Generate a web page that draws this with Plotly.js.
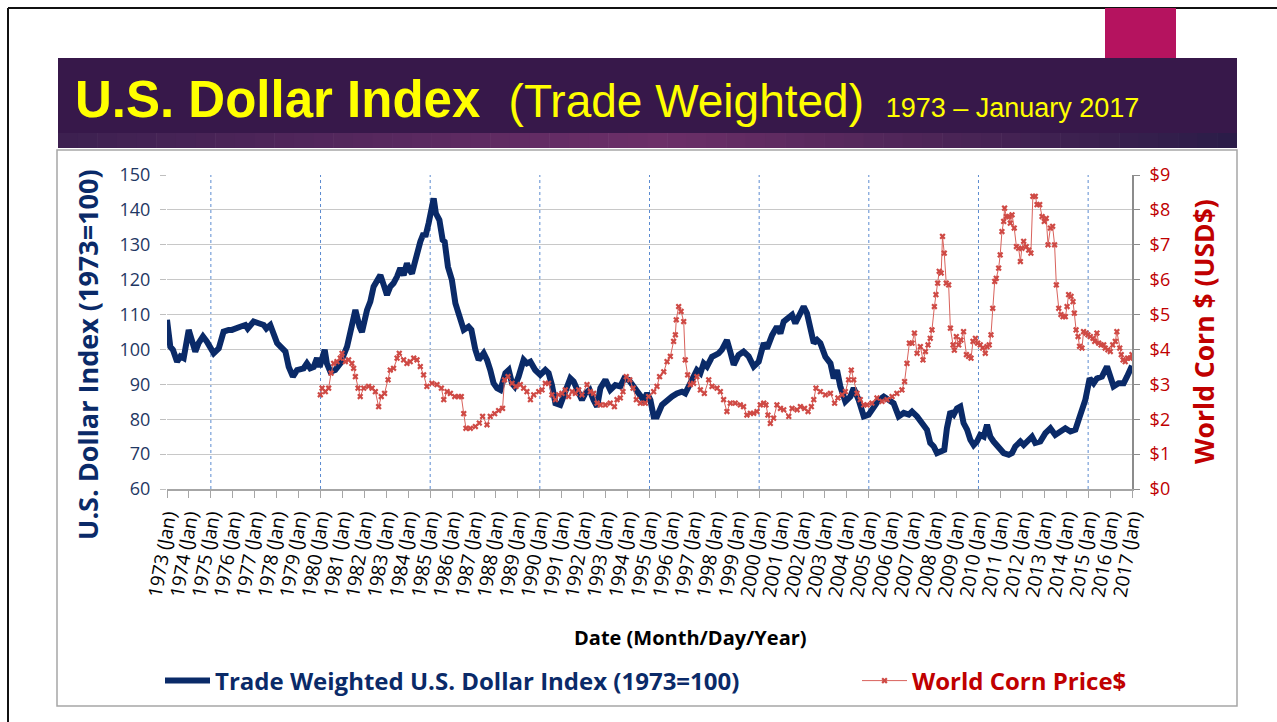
<!DOCTYPE html>
<html><head><meta charset="utf-8">
<script src="https://cdn.plot.ly/plotly-3.0.1.min.js"></script>
<style>html,body{margin:0;padding:0;background:#fff;overflow:hidden}#chart{width:1277px;height:722px}</style>
</head><body><div id="chart"></div>
<script>
// ---- Data ----
const blueYears = [1973.00,1973.15,1973.27,1973.46,1973.61,1973.76,1973.99,1974.29,1974.44,1974.64,1974.82,1975.13,1975.36,1975.58,1975.81,1975.96,1976.34,1976.57,1976.68,1976.95,1977.18,1977.41,1977.53,1977.71,1978.02,1978.24,1978.40,1978.55,1978.74,1978.93,1979.23,1979.38,1979.53,1979.69,1979.84,1979.96,1980.19,1980.29,1980.45,1980.67,1980.90,1981.21,1981.43,1981.59,1981.78,1981.89,1982.12,1982.27,1982.42,1982.57,1982.73,1982.88,1983.03,1983.18,1983.33,1983.49,1983.64,1983.79,1983.94,1984.05,1984.17,1984.29,1984.40,1984.55,1984.70,1984.78,1984.93,1985.11,1985.16,1985.26,1985.42,1985.57,1985.66,1985.81,1985.99,1986.15,1986.37,1986.53,1986.75,1986.88,1987.06,1987.21,1987.44,1987.59,1987.74,1987.89,1988.05,1988.20,1988.43,1988.58,1988.73,1988.85,1989.03,1989.26,1989.41,1989.57,1989.79,1990.02,1990.25,1990.40,1990.55,1990.71,1990.93,1991.16,1991.39,1991.54,1991.69,1991.92,1992.07,1992.27,1992.45,1992.61,1992.76,1992.99,1993.21,1993.44,1993.67,1993.85,1994.05,1994.28,1994.51,1994.73,1994.89,1995.04,1995.19,1995.34,1995.57,1995.80,1996.03,1996.25,1996.48,1996.63,1996.79,1996.94,1997.16,1997.32,1997.47,1997.62,1997.85,1998.00,1998.15,1998.30,1998.53,1998.68,1998.84,1999.06,1999.29,1999.52,1999.75,1999.98,2000.21,2000.36,2000.59,2000.81,2000.97,2001.12,2001.35,2001.50,2001.65,2001.88,2002.03,2002.18,2002.33,2002.49,2002.64,2002.79,2003.02,2003.25,2003.40,2003.55,2003.70,2003.93,2004.16,2004.31,2004.54,2004.77,2004.99,2005.22,2005.45,2005.68,2005.90,2006.13,2006.36,2006.59,2006.82,2006.97,2007.20,2007.42,2007.65,2007.80,2007.96,2008.11,2008.34,2008.44,2008.56,2008.72,2008.87,2009.02,2009.17,2009.32,2009.48,2009.63,2009.78,2009.93,2010.08,2010.24,2010.39,2010.54,2010.69,2010.92,2011.15,2011.38,2011.53,2011.68,2011.91,2012.06,2012.29,2012.44,2012.59,2012.82,2013.05,2013.28,2013.50,2013.73,2013.96,2014.19,2014.42,2014.57,2014.72,2014.87,2015.07,2015.25,2015.40,2015.63,2015.86,2016.01,2016.16,2016.39,2016.62,2016.77,2016.92,2017.00];
const blueIndex = [108.5,100.8,99.9,96.5,98.0,97.5,105.6,99.4,101.8,103.7,102.2,98.9,100.3,105.1,105.6,105.6,106.5,107.0,106.0,108.0,107.5,107.0,106.0,107.0,101.8,100.3,99.4,95.0,92.2,94.1,94.6,96.0,94.6,95.0,97.5,95.0,99.9,96.0,93.6,94.1,96.0,100.8,107.5,111.3,106.5,105.0,111.3,113.7,118.0,119.4,121.3,118.5,115.6,118.0,119.0,120.9,123.3,121.3,124.7,122.8,121.8,124.7,127.6,130.9,133.3,132.3,136.2,142.4,143.3,139.0,137.1,131.4,130.9,123.7,119.9,113.2,109.4,105.6,106.5,105.6,99.9,97.0,98.9,97.0,94.1,90.3,88.9,88.4,93.2,94.1,90.3,89.4,92.2,97.0,96.0,96.5,94.1,92.7,94.1,93.2,89.8,84.6,84.1,87.9,91.7,90.8,88.9,85.5,87.4,88.4,85.5,83.6,88.9,91.3,88.4,89.8,89.4,91.7,91.3,89.4,87.0,85.5,87.4,85.5,80.8,80.8,84.1,85.5,86.5,87.4,87.9,87.4,89.4,91.7,94.1,93.2,96.0,95.1,97.9,98.4,98.9,99.9,102.7,99.4,95.6,98.4,99.4,98.0,95.1,96.5,101.8,100.3,104.1,106.5,104.6,108.0,109.4,109.9,107.5,110.4,112.3,110.4,105.6,101.8,102.7,101.8,97.9,96.0,91.7,94.1,89.4,85.1,86.5,88.9,85.5,80.8,81.3,83.6,85.5,86.5,85.5,84.6,80.8,81.8,81.3,82.2,80.8,78.9,77.0,73.2,72.2,70.3,70.8,71.2,77.4,82.2,81.3,83.1,83.6,78.9,77.0,74.1,72.6,73.6,75.5,75.0,78.4,75.0,73.6,72.2,70.3,69.8,70.3,72.2,73.6,72.6,74.1,75.0,73.2,73.6,76.0,77.4,75.5,76.5,77.4,76.5,77.0,79.9,82.7,85.5,91.7,90.3,91.7,92.2,95.1,92.2,89.4,90.3,90.3,92.2,95.1,95.3];

const cornYears = [1979.99,1980.07,1980.22,1980.37,1980.48,1980.60,1980.75,1980.90,1980.98,1981.13,1981.28,1981.43,1981.51,1981.59,1981.71,1981.81,1981.97,1982.19,1982.35,1982.50,1982.65,1982.77,1982.92,1983.08,1983.18,1983.33,1983.49,1983.59,1983.79,1983.94,1984.09,1984.25,1984.40,1984.55,1984.70,1984.85,1985.08,1985.31,1985.51,1985.62,1985.77,1985.92,1986.12,1986.30,1986.42,1986.53,1986.63,1986.83,1987.06,1987.24,1987.39,1987.59,1987.74,1987.94,1988.12,1988.30,1988.39,1988.55,1988.73,1988.91,1989.11,1989.26,1989.41,1989.57,1989.72,1989.95,1990.10,1990.25,1990.40,1990.55,1990.71,1990.86,1991.01,1991.16,1991.31,1991.47,1991.62,1991.77,1991.92,1992.15,1992.30,1992.45,1992.61,1992.76,1992.99,1993.21,1993.40,1993.52,1993.67,1993.79,1993.94,1994.10,1994.25,1994.40,1994.58,1994.81,1994.96,1995.19,1995.34,1995.46,1995.65,1995.80,1995.95,1996.10,1996.18,1996.22,1996.33,1996.44,1996.56,1996.63,1996.74,1996.86,1997.01,1997.16,1997.32,1997.50,1997.70,1997.85,1998.08,1998.23,1998.38,1998.53,1998.68,1998.91,1999.14,1999.29,1999.44,1999.60,1999.75,1999.90,2000.05,2000.21,2000.31,2000.40,2000.51,2000.66,2000.81,2000.97,2001.12,2001.35,2001.50,2001.73,2001.88,2002.07,2002.23,2002.38,2002.49,2002.59,2002.79,2003.02,2003.25,2003.44,2003.59,2003.78,2003.93,2004.08,2004.20,2004.31,2004.46,2004.61,2004.77,2004.92,2005.14,2005.37,2005.60,2005.83,2006.06,2006.28,2006.51,2006.63,2006.74,2006.85,2006.97,2007.08,2007.20,2007.35,2007.47,2007.58,2007.70,2007.80,2007.88,2007.99,2008.06,2008.14,2008.21,2008.30,2008.36,2008.44,2008.53,2008.64,2008.72,2008.84,2008.90,2008.99,2009.10,2009.20,2009.32,2009.45,2009.55,2009.66,2009.75,2009.86,2009.96,2010.08,2010.19,2010.31,2010.39,2010.49,2010.57,2010.65,2010.74,2010.81,2010.92,2010.99,2011.07,2011.15,2011.19,2011.27,2011.38,2011.45,2011.53,2011.63,2011.73,2011.83,2011.91,2011.98,2012.06,2012.18,2012.29,2012.39,2012.48,2012.59,2012.67,2012.79,2012.90,2013.00,2013.09,2013.17,2013.28,2013.38,2013.47,2013.55,2013.66,2013.76,2013.85,2013.96,2014.04,2014.11,2014.22,2014.31,2014.37,2014.45,2014.54,2014.61,2014.72,2014.79,2014.90,2014.99,2015.10,2015.22,2015.30,2015.40,2015.48,2015.59,2015.71,2015.78,2015.90,2016.01,2016.12,2016.24,2016.31,2016.44,2016.51,2016.59,2016.69,2016.80,2016.92,2017.00];
const cornPrice = [2.70,2.89,2.79,2.89,3.32,3.60,3.65,3.75,3.89,3.65,3.70,3.60,3.46,3.22,2.89,2.65,2.89,2.94,2.89,2.79,2.36,2.65,2.74,3.13,3.41,3.46,3.75,3.89,3.70,3.60,3.65,3.75,3.70,3.51,3.27,2.94,3.03,2.99,2.89,2.56,2.79,2.74,2.65,2.65,2.65,2.16,1.74,1.74,1.79,1.89,2.08,1.84,2.08,2.16,2.25,2.31,3.13,3.22,3.03,2.94,2.99,2.89,2.79,2.56,2.70,2.79,2.84,3.03,3.03,2.70,2.56,2.70,2.74,2.84,2.65,2.79,2.74,2.84,2.70,2.99,2.79,2.74,2.46,2.41,2.41,2.46,2.36,2.56,2.61,2.79,3.22,3.13,2.89,2.56,2.46,2.46,2.65,2.79,2.94,3.22,3.36,3.65,3.80,4.23,4.42,4.85,5.23,5.09,4.80,3.70,3.27,2.99,3.03,3.22,2.84,2.74,3.13,2.94,2.89,2.79,2.56,2.22,2.46,2.46,2.41,2.36,2.12,2.17,2.17,2.22,2.41,2.46,2.41,2.12,1.88,2.03,2.41,2.31,2.27,2.08,2.31,2.27,2.36,2.31,2.22,2.36,2.56,2.89,2.79,2.70,2.74,2.46,2.61,2.70,2.79,3.13,3.41,3.13,2.74,2.56,2.41,2.41,2.46,2.61,2.51,2.56,2.65,2.74,2.84,3.08,3.60,4.18,4.18,4.47,3.89,4.08,3.70,3.94,4.13,4.32,4.56,5.23,5.57,5.90,6.24,6.19,7.24,6.76,5.90,5.85,4.61,4.13,3.98,4.37,4.13,4.27,4.51,3.85,3.80,3.75,4.23,4.32,4.18,4.13,4.04,3.89,4.08,4.13,4.42,5.18,5.95,6.04,6.33,6.71,7.38,7.67,8.05,7.81,7.81,7.62,7.86,7.48,6.95,6.90,6.52,6.90,7.10,6.95,6.85,6.76,8.39,8.39,8.15,8.15,7.81,7.67,7.76,7.00,7.48,7.53,7.00,5.85,5.18,5.00,4.94,4.94,5.23,5.57,5.52,5.37,5.04,4.56,4.37,4.09,4.04,4.51,4.47,4.42,4.37,4.32,4.23,4.47,4.18,4.13,4.13,4.04,3.99,3.94,4.13,4.23,4.51,4.04,3.85,3.70,3.65,3.75,3.75,3.85];

const tickYears = [1973,1974,1975,1976,1977,1978,1979,1980,1981,1982,1983,1984,1985,1986,1987,1988,1989,1990,1991,1992,1993,1994,1995,1996,1997,1998,1999,2000,2001,2002,2003,2004,2005,2006,2007,2008,2009,2010,2011,2012,2013,2014,2015,2016,2017];
const tickLabels = ["1973 (Jan)","1974 (Jan)","1975 (Jan)","1976 (Jan)","1977 (Jan)","1978 (Jan)","1979 (Jan)","1980 (Jan)","1981 (Jan)","1982 (Jan)","1983 (Jan)","1984 (Jan)","1985 (Jan)","1986 (Jan)","1987 (Jan)","1988 (Jan)","1989 (Jan)","1990 (Jan)","1991 (Jan)","1992 (Jan)","1993 (Jan)","1994 (Jan)","1995 (Jan)","1996 (Jan)","1997 (Jan)","1998 (Jan)","1999 (Jan)","2000 (Jan)","2001 (Jan)","2002 (Jan)","2003 (Jan)","2004 (Jan)","2005 (Jan)","2006 (Jan)","2007 (Jan)","2008 (Jan)","2009 (Jan)","2010 (Jan)","2011 (Jan)","2012 (Jan)","2013 (Jan)","2014 (Jan)","2015 (Jan)","2016 (Jan)","2017 (Jan)"];
const dashYears = [1975,1980,1985,1990,1995,2000,2005,2010,2015];

// ---- Layout geometry (pixels) ----
const W = 1277, H = 722, L = 167, R = 1132, T = 175, B = 489;
const PW = R - L, PH = B - T;
const fx = x => (x - L) / PW;
const fy = y => (B - y) / PH;

const NAVY = '#0a2a68', RED = '#c00000';
const FONT = 'Open Sans, Noto Sans, sans-serif';
const NB = '\u00a0';

const shapes = [];
// outer slide frame
shapes.push({type:'line', xref:'paper', yref:'paper', x0:fx(8), x1:fx(1277), y0:fy(8), y1:fy(8), line:{color:'#111', width:2}});
shapes.push({type:'line', xref:'paper', yref:'paper', x0:fx(8), x1:fx(8), y0:fy(8), y1:fy(722), line:{color:'#111', width:2}});
// magenta accent
shapes.push({type:'rect', xref:'paper', yref:'paper', x0:fx(1105), x1:fx(1176), y0:fy(58), y1:fy(8), fillcolor:'#b5135f', line:{width:0}});
// title banner
shapes.push({type:'rect', xref:'paper', yref:'paper', x0:fx(58), x1:fx(1237), y0:fy(133), y1:fy(58), fillcolor:'#37184a', line:{width:0}});
// gradient band under the banner
const stops = [[58,[60,32,80]],[400,[88,40,95]],[660,[108,47,104]],[920,[78,37,88]],[1237,[42,28,72]]];
function colAt(x){
  for (let i=0;i<stops.length-1;i++){
    const a=stops[i], b=stops[i+1];
    if (x>=a[0] && x<=b[0]){
      const t=(x-a[0])/(b[0]-a[0]);
      const c=a[1].map((v,k)=>Math.round(v+(b[1][k]-v)*t));
      return 'rgb('+c.join(',')+')';
    }
  }
  return 'rgb(42,28,72)';
}
const nStrips = 60, sw = (1237-58)/nStrips;
for (let i=0;i<nStrips;i++){
  const x0 = 58 + i*sw, x1 = x0 + sw + 0.6;
  shapes.push({type:'rect', xref:'paper', yref:'paper', x0:fx(x0), x1:fx(Math.min(x1,1237)), y0:fy(148), y1:fy(133), fillcolor:colAt(x0+sw/2), line:{width:0}});
}
// chart panel border
shapes.push({type:'rect', xref:'paper', yref:'paper', x0:fx(57), x1:fx(1237), y0:fy(706), y1:fy(150), line:{color:'#a6a6a6', width:1.5}, fillcolor:'rgba(0,0,0,0)'});
// dashed vertical lines
dashYears.forEach(yr => shapes.push({type:'line', xref:'x', yref:'paper', x0:yr, x1:yr, y0:0, y1:1, line:{color:'#5b8bd0', width:1, dash:'dot'}, layer:'below'}));

const annotations = [
  {xref:'paper', yref:'paper', x:fx(73), y:fy(99), xanchor:'left', yanchor:'middle', showarrow:false,
   text:'<b>U.S. Dollar Index</b>'+NB+NB+'<span style="font-size:46px">(Trade Weighted)</span>'+NB+'<span style="font-size:27px">'+NB+'1973 – January 2017</span>',
   font:{family:'Liberation Sans, Arial, sans-serif', size:51, color:'#ffff00'}},
  {xref:'paper', yref:'paper', x:fx(87), y:fy(355), xanchor:'center', yanchor:'middle', showarrow:false, textangle:-90,
   text:'<b>U.S. Dollar Index (1973=100)</b>', font:{family:FONT, size:27, color:NAVY}},
  {xref:'paper', yref:'paper', x:fx(1204), y:fy(332), xanchor:'center', yanchor:'middle', showarrow:false, textangle:-90,
   text:'<b>World Corn $ (USD$)</b>', font:{family:FONT, size:26.5, color:RED}},
  {xref:'paper', yref:'paper', x:fx(690), y:fy(637), xanchor:'center', yanchor:'middle', showarrow:false,
   text:'<b>Date (Month/Day/Year)</b>', font:{family:FONT, size:20, color:'#000'}}
];

const traces = [
  {type:'scatter', mode:'lines', x:blueYears, y:blueIndex, yaxis:'y', legend:'legend',
   name:'<b><span style="color:'+NAVY+'">Trade Weighted U.S. Dollar Index (1973=100)</span></b>',
   line:{color:NAVY, width:6}},
  {type:'scatter', mode:'lines+markers', x:cornYears, y:cornPrice, yaxis:'y2', legend:'legend2',
   name:'<b><span style="color:'+RED+'">World Corn Price$</span></b>',
   line:{color:'#d9625c', width:1}, marker:{symbol:'x', size:5.5, color:'#cf4a45'}}
];

const legendBase = {orientation:'h', xanchor:'left', yanchor:'middle', itemwidth:45,
                    font:{family:FONT, size:24}, bgcolor:'rgba(0,0,0,0)'};

const layout = {
  width:W, height:H,
  margin:{l:L, r:W-R, t:T, b:H-B, pad:0},
  paper_bgcolor:'#ffffff', plot_bgcolor:'#ffffff',
  font:{family:FONT},
  showlegend:true,
  legend:Object.assign({}, legendBase, {x:fx(160), y:fy(681)}),
  legend2:Object.assign({}, legendBase, {x:fx(857), y:fy(681)}),
  xaxis:{range:[1973,2017], tickmode:'array', tickvals:tickYears, ticktext:tickLabels, tickangle:-80,
         ticks:'outside', ticklen:7, tickcolor:'#a6a6a6', showline:true, linecolor:'#a6a6a6', linewidth:1.5,
         showgrid:false, zeroline:false, tickfont:{family:FONT, size:19, color:'#000'}},
  yaxis:{range:[60,150], tickmode:'linear', tick0:60, dtick:10, ticks:'outside', ticklen:6, tickcolor:'#bfbfbf',
         showgrid:true, gridcolor:'#c8c8c8', gridwidth:1, showline:false, zeroline:false, ticklabelstandoff:6,
         tickfont:{family:FONT, size:18, color:'#1f3864'}},
  yaxis2:{range:[0,9], overlaying:'y', side:'right', tickmode:'linear', tick0:0, dtick:1, tickprefix:'$',
          showgrid:false, zeroline:false, showline:true, linecolor:'#8c8c8c', linewidth:2,
          ticks:'outside', ticklen:6, tickcolor:'#8c8c8c', ticklabelstandoff:6,
          tickfont:{family:FONT, size:18, color:RED}},
  shapes:shapes,
  annotations:annotations
};

Plotly.newPlot('chart', traces, layout, {displayModeBar:false, responsive:false});
</script>
</body></html>
